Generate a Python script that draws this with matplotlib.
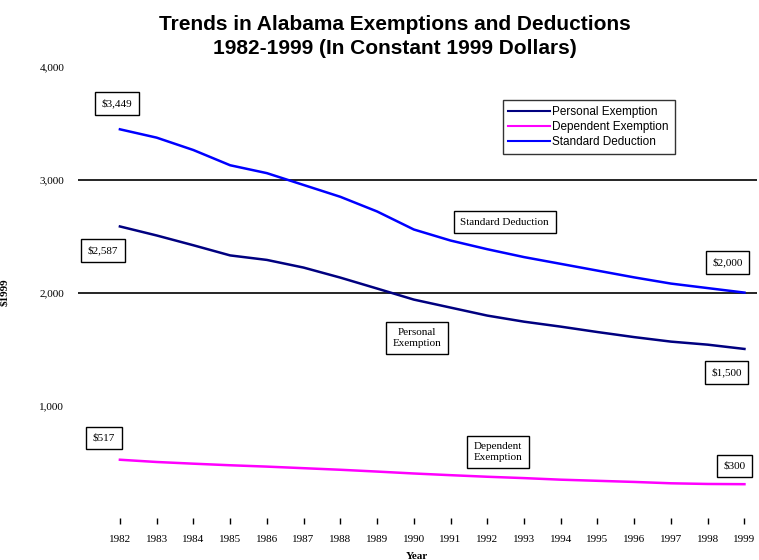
import numpy as np
import matplotlib
matplotlib.use('Agg')
import matplotlib.pyplot as plt
from matplotlib.ticker import FuncFormatter

# Data (constant 1999 dollars)
years = list(range(1982, 2000))
personal = [2587, 2507, 2420, 2330, 2290, 2222, 2133, 2036, 1938, 1867,
            1796, 1742, 1698, 1650, 1605, 1565, 1538, 1500]
dependent = [517, 497, 482, 468, 456, 442, 428, 412, 395, 380,
             366, 354, 340, 330, 320, 308, 302, 300]
standard = [3449, 3375, 3265, 3130, 3060, 2955, 2850, 2720, 2560, 2462,
            2385, 2315, 2255, 2195, 2135, 2080, 2040, 2000]
series_names = ['Personal Exemption', 'Dependent Exemption', 'Standard Deduction']

serif = 'Liberation Serif'
sans = 'Liberation Sans'

fig = plt.figure(figsize=(7.59, 5.60), dpi=100)
ax = fig.add_axes([0.1028, 0.075, 0.894, 0.805])

ax.plot(years, personal, color='#000080', lw=1.8, label=series_names[0])
ax.plot(years, dependent, color='#FF00FF', lw=1.8, label=series_names[1])
ax.plot(years, standard, color='#0000FF', lw=1.8, label=series_names[2])

for v in (2000, 3000):
    ax.axhline(v, color='black', lw=1.2, zorder=0)

ax.set_xlim(1980.86, 1999.33)
ax.set_ylim(0, 4000)
ax.set_yticks([1000, 2000, 3000, 4000])
ax.yaxis.set_major_formatter(FuncFormatter(lambda v, p: f'{int(v):,}'))
ax.set_xticks(years)
ax.tick_params(axis='y', length=0, labelsize=8, pad=10)
ax.tick_params(axis='x', length=4, width=1, labelsize=8, pad=8)
for lbl in ax.get_xticklabels() + ax.get_yticklabels():
    lbl.set_fontfamily(serif)
for s in ax.spines.values():
    s.set_visible(False)

ax.set_xlabel('Year', fontsize=8, fontfamily=serif, fontweight='bold', labelpad=6)
ax.set_ylabel('$1999', fontsize=8, fontfamily=serif, fontweight='bold', labelpad=22)

fig.text(0.52, 0.935, 'Trends in Alabama Exemptions and Deductions\n1982-1999 (In Constant 1999 Dollars)',
         ha='center', va='center', fontsize=15, fontweight='bold', fontfamily=sans,
         linespacing=1.35)

box = dict(boxstyle='square,pad=0.6', facecolor='white', edgecolor='black', lw=1)
notes = [
    ('$3,449', 1981.92, 3680),
    ('$2,587', 1981.54, 2377),
    ('Standard Deduction', 1992.47, 2625),
    ('Personal\nExemption', 1990.08, 1596),
    ('$2,000', 1998.54, 2270),
    ('$1,500', 1998.51, 1295),
    ('$517', 1981.56, 710),
    ('Dependent\nExemption', 1992.28, 585),
    ('$300', 1998.73, 461),
]
for txt, x, y in notes:
    ax.text(x, y, txt, ha='center', va='center', fontsize=8, fontfamily=serif, bbox=box)

leg = ax.legend(loc='upper left', bbox_to_anchor=(0.617, 0.94),
                prop={'family': sans, 'size': 8.5}, frameon=True, fancybox=False,
                handlelength=3.5, handletextpad=0.2, borderpad=0.5, labelspacing=0.25)
leg.get_frame().set_edgecolor('black')
leg.get_frame().set_linewidth(1)
for h in leg.get_lines():
    h.set_linewidth(1.5)

fig.savefig('out.png', dpi=100)
